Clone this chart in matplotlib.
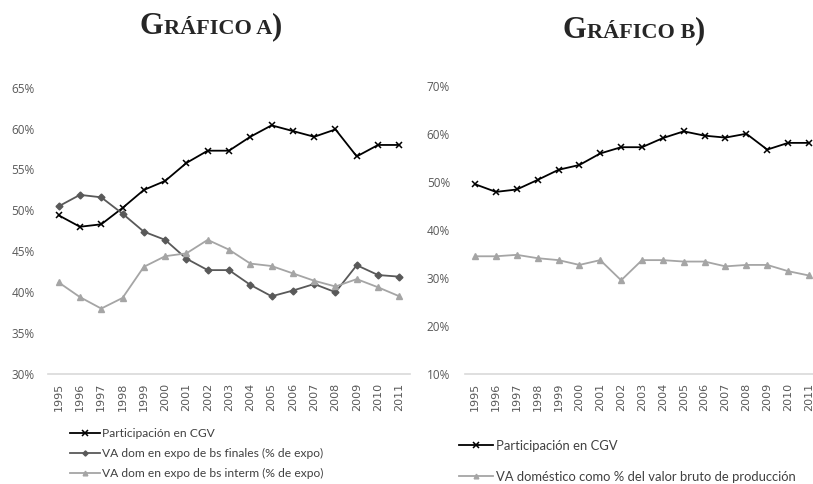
import matplotlib
matplotlib.use("Agg")
import matplotlib.pyplot as plt
from matplotlib.ticker import FixedLocator, FuncFormatter

years = [str(y) for y in range(1995, 2012)]

participacion = [49.4, 48.0, 48.3, 50.3, 52.5, 53.6, 55.8, 57.3, 57.3, 59.0,
                 60.4, 59.7, 59.0, 59.9, 56.6, 58.0, 58.0]
va_finales = [50.5, 51.9, 51.6, 49.6, 47.4, 46.4, 44.1, 42.7, 42.7, 40.9,
              39.5, 40.2, 41.0, 40.0, 43.3, 42.1, 41.9]
va_interm = [41.2, 39.4, 38.0, 39.3, 43.1, 44.4, 44.75, 46.4, 45.2, 43.5,
             43.2, 42.3, 41.4, 40.7, 41.6, 40.6, 39.5]
participacion_b = [49.5, 47.9, 48.4, 50.4, 52.5, 53.5, 55.9, 57.2, 57.2, 59.1,
                   60.5, 59.6, 59.2, 60.0, 56.7, 58.1, 58.1]
va_domestico = [34.5, 34.5, 34.8, 34.1, 33.7, 32.7, 33.7, 29.5, 33.7, 33.7,
                33.4, 33.4, 32.4, 32.7, 32.7, 31.4, 30.5]

labels_a = ["Participación en CGV",
            "VA dom en expo de bs finales (% de expo)",
            "VA dom en expo de bs interm (% de expo)"]
labels_b = ["Participación en CGV",
            "VA doméstico como % del valor bruto de producción"]

W, H = 813, 484

TICK_C = "#595959"
LEG_FONT = "Lato"
YT_FONT = "Open Sans"
XT_FONT = "DejaVu Sans"


def fit_size(text, target_px, family):
    f2 = plt.figure(figsize=(8, 2), dpi=100)
    f2.canvas.draw()
    r = f2.canvas.get_renderer()
    t = f2.text(0, 0, text, fontsize=10, family=family)
    w = t.get_window_extent(r).width
    plt.close(f2)
    return 10 * target_px / w


fs_a = fit_size(labels_a[1], 220, LEG_FONT)
fs_b = fit_size(labels_b[1], 303, LEG_FONT)

fig = plt.figure(figsize=(W / 100, H / 100), dpi=100)


def px_ax(x0, x1, ytop, ybot):
    return fig.add_axes([x0 / W, 1 - ybot / H, (x1 - x0) / W, (ybot - ytop) / H])


def style(ax, ticks, pad_y):
    for s in ["top", "right", "left"]:
        ax.spines[s].set_visible(False)
    ax.spines["bottom"].set_color("#d9d9d9")
    ax.spines["bottom"].set_linewidth(1.2)
    ax.yaxis.set_major_locator(FixedLocator(ticks))
    ax.yaxis.set_major_formatter(FuncFormatter(lambda v, p: f"{int(round(v))}%"))
    ax.tick_params(axis="both", length=0)
    ax.tick_params(axis="y", pad=pad_y, labelcolor=TICK_C, labelsize=8.5,
                   labelfontfamily=YT_FONT)
    ax.tick_params(axis="x", pad=6.5, labelcolor=TICK_C, labelsize=8,
                   labelfontfamily=XT_FONT, labelrotation=90)
    ax.set_xlim(-0.5, len(years) - 0.5)


# Chart A
ax1 = px_ax(48, 410, 87.7, 374)
x = list(range(len(years)))
l1, = ax1.plot(x, participacion, color="black", lw=1.3, marker="x", ms=5, mew=1.1)
l2, = ax1.plot(x, va_finales, color="#595959", lw=1.3, marker="D", ms=3.5)
l3, = ax1.plot(x, va_interm, color="#a5a5a5", lw=1.3, marker="^", ms=4.5)
ax1.set_xticks(x)
ax1.set_xticklabels(years)
ax1.set_ylim(30, 65)
style(ax1, [30, 35, 40, 45, 50, 55, 60, 65], 9.5)

# Chart B
ax2 = px_ax(464.6, 819.4, 85.7, 374)
m1, = ax2.plot(x, participacion_b, color="black", lw=1.3, marker="x", ms=5, mew=1.1)
m2, = ax2.plot(x, va_domestico, color="#a5a5a5", lw=1.3, marker="^", ms=4.5)
ax2.set_xticks(x)
ax2.set_xticklabels(years)
ax2.set_ylim(10, 70)
style(ax2, [10, 20, 30, 40, 50, 60, 70], 10.5)

# Legends
leg1 = fig.legend([l1, l2, l3], labels_a, loc="upper left",
                  bbox_to_anchor=(70 / W, 1 - 428 / H), frameon=False,
                  prop={"family": LEG_FONT, "size": fs_a},
                  handlelength=2.5, handletextpad=0.2, labelspacing=0.75,
                  borderpad=0, borderaxespad=0, labelcolor="#404040")
leg2 = fig.legend([m1, m2], labels_b, loc="upper left",
                  bbox_to_anchor=(459 / W, 1 - 440 / H), frameon=False,
                  prop={"family": LEG_FONT, "size": fs_b},
                  handlelength=2.6, handletextpad=0.2, labelspacing=1.45,
                  borderpad=0, borderaxespad=0, labelcolor="#404040")
for lg in (leg1, leg2):
    for h in lg.legend_handles:
        h.set_markersize(h.get_markersize() * 0.75)

# Titles in small caps
TITLE_C = "#262626"


def smallcaps_title(cx, base_y, rest):
    fig.canvas.draw()
    r = fig.canvas.get_renderer()
    parts = [("G", 22), (rest, 16), (")", 22)]
    texts = []
    for s, sz in parts:
        t = fig.text(0, 1 - base_y / H, s, fontsize=sz, fontweight="bold",
                     family="Liberation Serif", color=TITLE_C, va="baseline", ha="left")
        texts.append(t)
    widths = [t.get_window_extent(r).width for t in texts]
    total = sum(widths)
    xpos = cx - total / 2
    for t, w in zip(texts, widths):
        t.set_x(xpos / W)
        xpos += w


smallcaps_title(211, 34, "RÁFICO A")
smallcaps_title(634, 38, "RÁFICO B")

for ax in (ax1, ax2):
    for t in ax.get_xticklabels():
        t.set_fontfamily(XT_FONT)
        t.set_fontsize(8)

fig.savefig("out.png", dpi=100, facecolor="white")
